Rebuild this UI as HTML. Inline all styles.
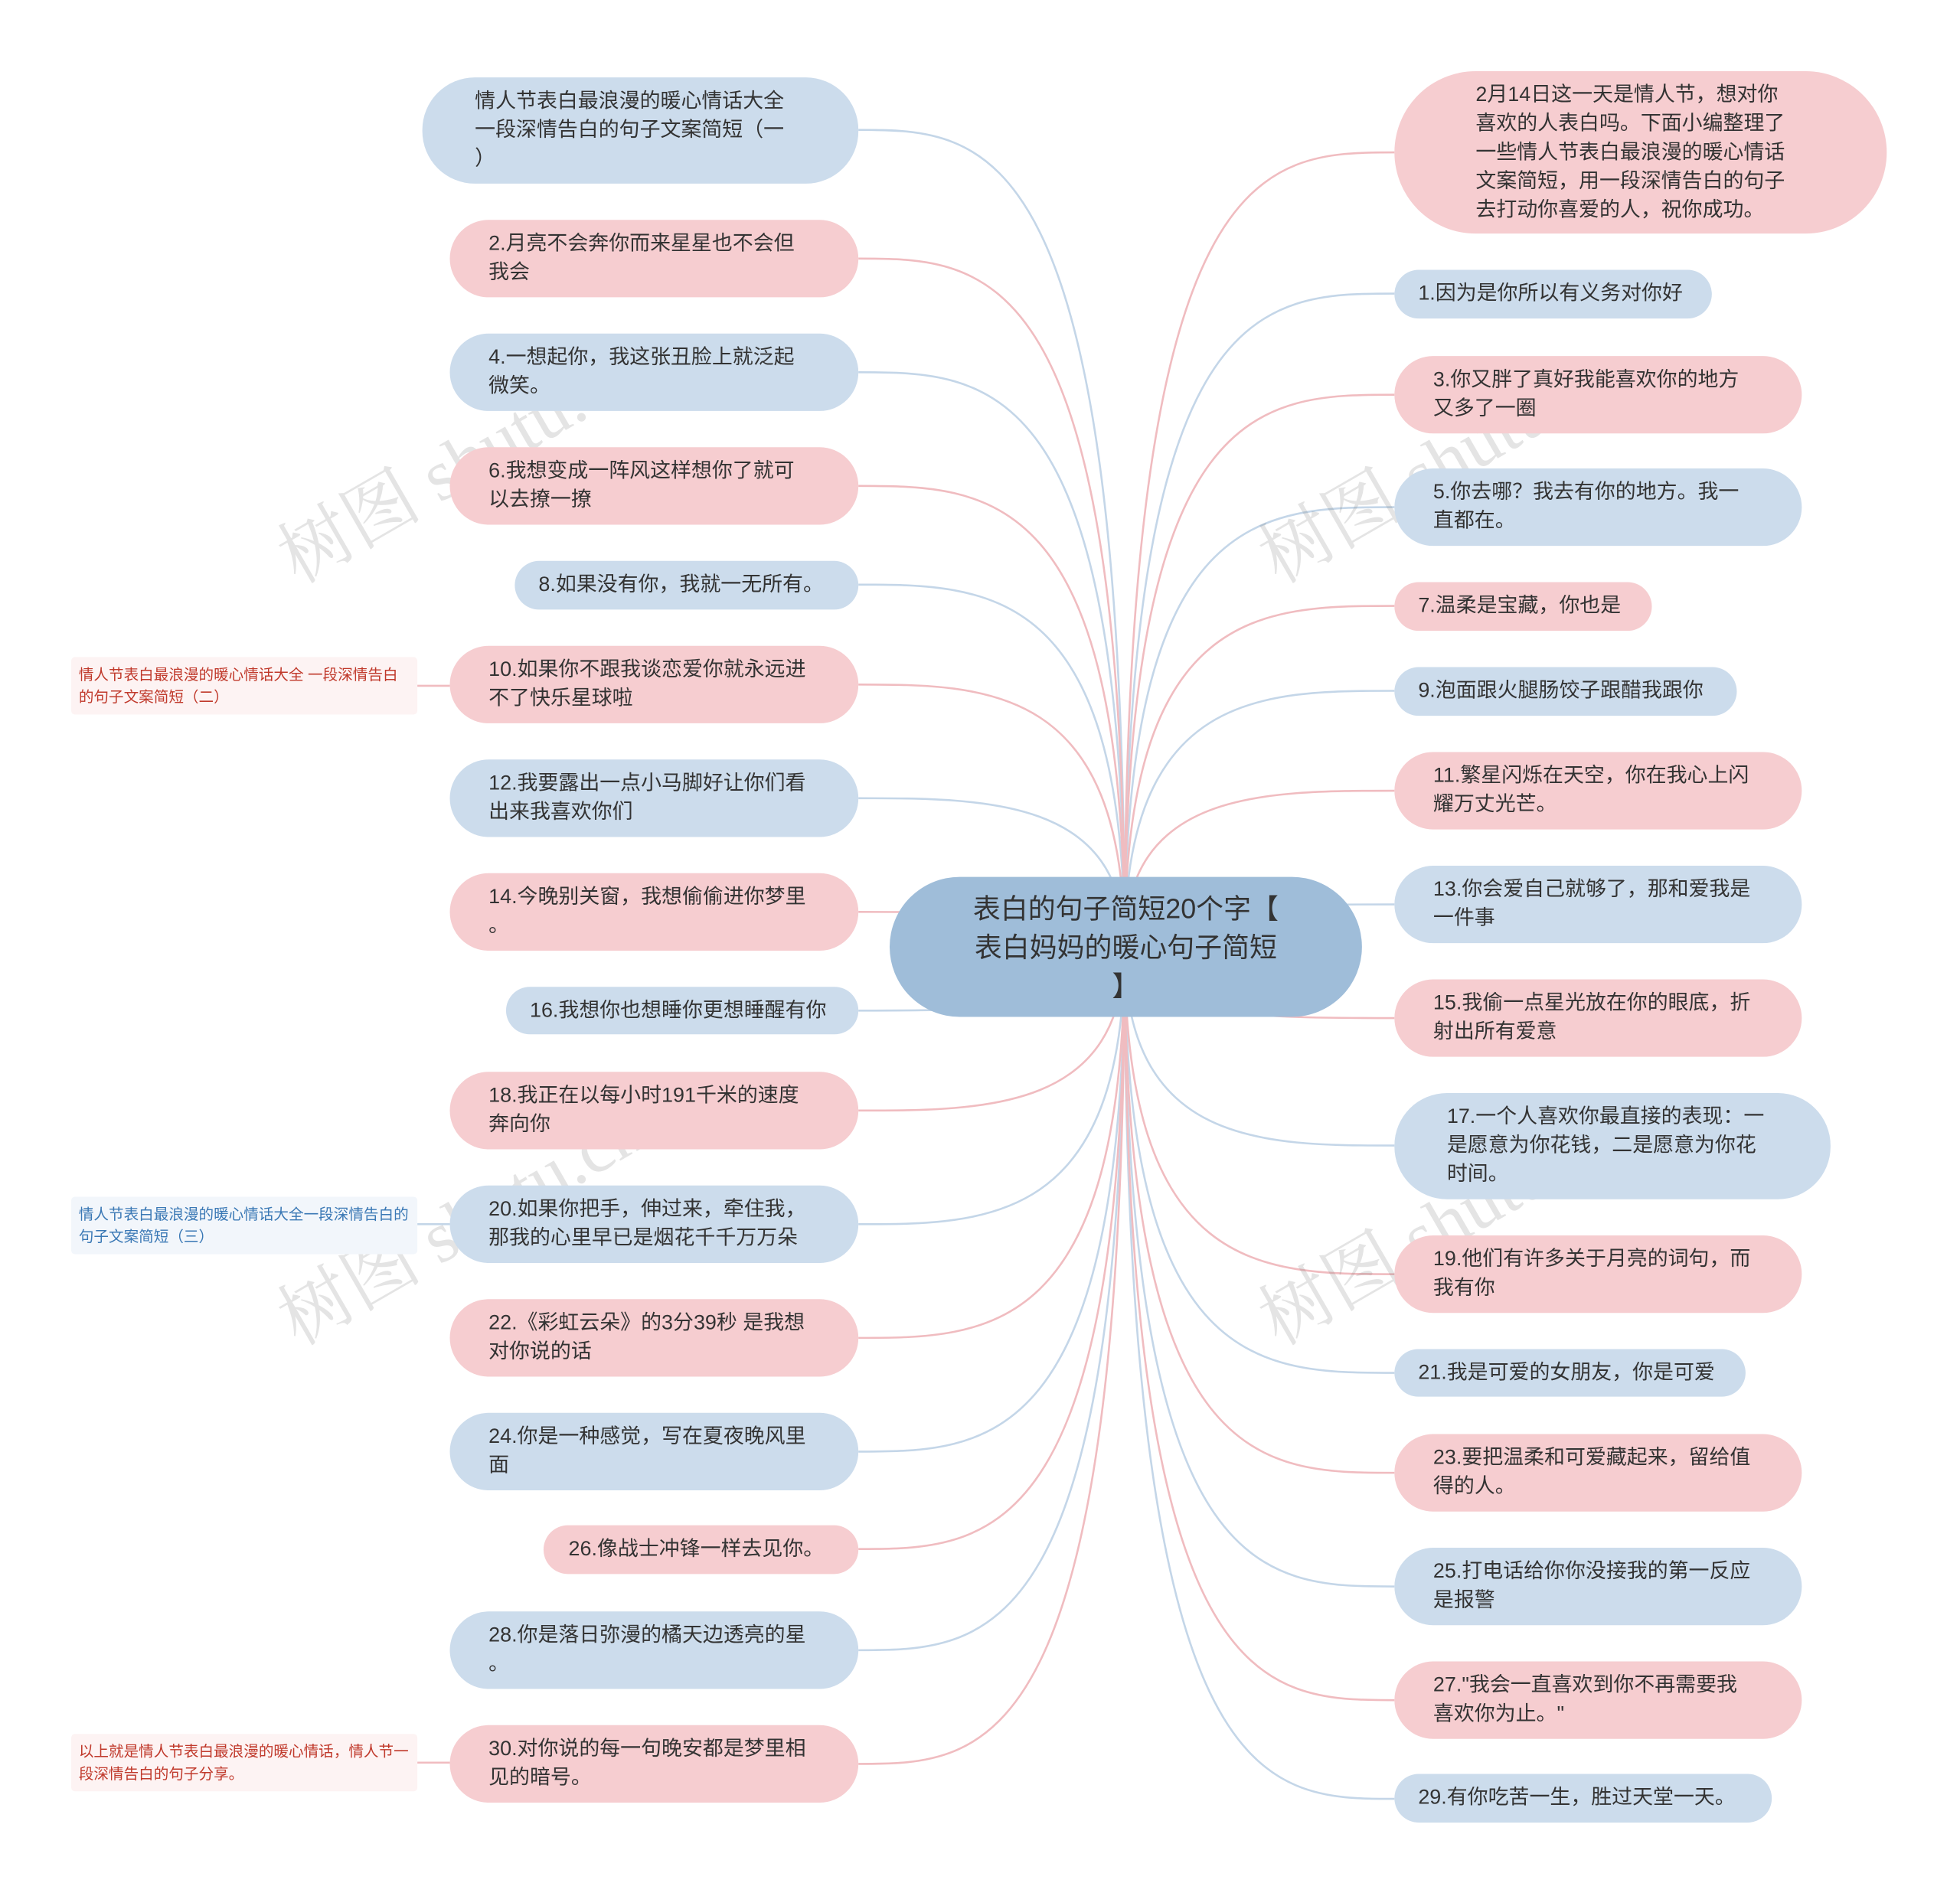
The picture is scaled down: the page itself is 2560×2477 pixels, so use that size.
<!DOCTYPE html>
<html><head><meta charset="utf-8">
<style>
html,body{margin:0;padding:0;background:#fff;overflow:hidden;}
#wrap{position:relative;width:2560px;height:2477px;overflow:hidden;}
#s{position:absolute;left:0;top:0;width:1550px;height:1500px;overflow:hidden;transform:scale(1.632);transform-origin:0 0;font-family:"Liberation Sans","Noto Sans CJK SC",sans-serif;}
.n{position:absolute;box-sizing:border-box;border-radius:32px;display:flex;align-items:center;font-size:16.5px;line-height:23px;color:#333;padding-left:31px;padding-right:38px;word-break:break-all;line-break:anywhere;}
.b{background:#ccdcec;}
.p{background:#f6cdd0;}
.note{position:absolute;left:57px;width:277px;height:46px;box-sizing:border-box;padding:5px 6px;font-size:12px;line-height:18px;border-radius:3px;}
.wm{position:absolute;font-family:"Liberation Serif","Noto Serif CJK SC",serif;font-size:58px;color:rgba(120,120,120,0.2);transform:rotate(-30deg);transform-origin:0 0;white-space:nowrap;}
</style></head><body><div id="wrap"><div id="s">
<svg width="1550" height="1500" style="position:absolute;left:0;top:0" fill="none" stroke-width="1.6">
<g stroke="#c4d6e8">
<path d="M900 758 C900 104 790 104 687 104"/>
<path d="M900 758 C900 298 790 298 687 298"/>
<path d="M900 758 C900 468 790 468 687 468"/>
<path d="M900 758 C900 639 790 639 687 639"/>
<path d="M900 758 C900 809 790 809 687 809"/>
<path d="M900 758 C900 980 790 980 687 980"/>
<path d="M900 758 C900 1162 790 1162 687 1162"/>
<path d="M900 758 C900 1321 790 1321 687 1321"/>
<path d="M900 758 C900 235 1010 235 1116 235"/>
<path d="M900 758 C900 406 1010 406 1116 406"/>
<path d="M900 758 C900 553 1010 553 1116 553"/>
<path d="M900 758 C900 724 1010 724 1116 724"/>
<path d="M900 758 C900 917 1010 917 1116 917"/>
<path d="M900 758 C900 1099 1010 1099 1116 1099"/>
<path d="M900 758 C900 1270 1010 1270 1116 1270"/>
<path d="M900 758 C900 1440 1010 1440 1116 1440"/>
<path d="M334 980 L360 980"/>
</g>
<g stroke="#f0bcc0">
<path d="M900 758 C900 207 790 207 687 207"/>
<path d="M900 758 C900 389 790 389 687 389"/>
<path d="M900 758 C900 548 790 548 687 548"/>
<path d="M900 758 C900 730 790 730 687 730"/>
<path d="M900 758 C900 889 790 889 687 889"/>
<path d="M900 758 C900 1071 790 1071 687 1071"/>
<path d="M900 758 C900 1240 790 1240 687 1240"/>
<path d="M900 758 C900 1412 790 1412 687 1412"/>
<path d="M900 758 C900 122 1010 122 1116 122"/>
<path d="M900 758 C900 316 1010 316 1116 316"/>
<path d="M900 758 C900 485 1010 485 1116 485"/>
<path d="M900 758 C900 633 1010 633 1116 633"/>
<path d="M900 758 C900 815 1010 815 1116 815"/>
<path d="M900 758 C900 1020 1010 1020 1116 1020"/>
<path d="M900 758 C900 1179 1010 1179 1116 1179"/>
<path d="M900 758 C900 1361 1010 1361 1116 1361"/>
<path d="M334 549 L360 549"/>
<path d="M334 1411 L360 1411"/>
</g>
</svg>

<div class="wm" style="left:205px;top:410px">树图 shutu.cn</div>
<div class="wm" style="left:205px;top:1020px">树图 shutu.cn</div>
<div class="wm" style="left:990px;top:410px">树图 shutu.cn</div>
<div class="wm" style="left:990px;top:1020px">树图 shutu.cn</div>
<div class="wm" style="left:205px;top:1630px">树图 shutu.cn</div>
<div class="wm" style="left:990px;top:1630px">树图 shutu.cn</div>

<div class="n" style="left:712px;top:702px;width:378px;height:112px;border-radius:56px;background:#9fbdd9;font-size:22px;line-height:31px;justify-content:center;text-align:center;padding:0 40px;">表白的句子简短20个字【<br>表白妈妈的暖心句子简短<br>】</div>

<div class="n b" style="left:338px;top:62px;width:349px;height:85px;padding-left:42px;padding-right:44px;border-radius:42px">情人节表白最浪漫的暖心情话大全<br>一段深情告白的句子文案简短（一<br>）</div>
<div class="n p" style="left:360px;top:176px;width:327px;height:62px">2.月亮不会奔你而来星星也不会但我会</div>
<div class="n b" style="left:360px;top:267px;width:327px;height:62px">4.一想起你，我这张丑脸上就泛起微笑。</div>
<div class="n p" style="left:360px;top:358px;width:327px;height:62px">6.我想变成一阵风这样想你了就可以去撩一撩</div>
<div class="n b" style="left:412px;top:449px;width:275px;height:39px;padding-left:19px;padding-right:10px;border-radius:20px">8.如果没有你，我就一无所有。</div>
<div class="n p" style="left:360px;top:517px;width:327px;height:62px">10.如果你不跟我谈恋爱你就永远进不了快乐星球啦</div>
<div class="n b" style="left:360px;top:608px;width:327px;height:62px">12.我要露出一点小马脚好让你们看出来我喜欢你们</div>
<div class="n p" style="left:360px;top:699px;width:327px;height:62px">14.今晚别关窗，我想偷偷进你梦里。</div>
<div class="n b" style="left:405px;top:790px;width:282px;height:38px;padding-left:19px;padding-right:10px;border-radius:20px">16.我想你也想睡你更想睡醒有你</div>
<div class="n p" style="left:360px;top:858px;width:327px;height:62px">18.我正在以每小时191千米的速度奔向你</div>
<div class="n b" style="left:360px;top:949px;width:327px;height:62px">20.如果你把手，伸过来，牵住我，那我的心里早已是烟花千千万万朵</div>
<div class="n p" style="left:360px;top:1040px;width:327px;height:62px">22.《彩虹云朵》的3分39秒 是我想对你说的话</div>
<div class="n b" style="left:360px;top:1131px;width:327px;height:62px">24.你是一种感觉，写在夏夜晚风里面</div>
<div class="n p" style="left:435px;top:1221px;width:252px;height:39px;padding-left:20px;padding-right:10px;border-radius:20px">26.像战士冲锋一样去见你。</div>
<div class="n b" style="left:360px;top:1290px;width:327px;height:62px">28.你是落日弥漫的橘天边透亮的星。</div>
<div class="n p" style="left:360px;top:1381px;width:327px;height:62px">30.对你说的每一句晚安都是梦里相见的暗号。</div>

<div class="n p" style="left:1116px;top:57px;width:394px;height:130px;padding-left:65px;padding-right:72px;border-radius:65px">2月14日这一天是情人节，想对你喜欢的人表白吗。下面小编整理了一些情人节表白最浪漫的暖心情话文案简短，用一段深情告白的句子去打动你喜爱的人，祝你成功。</div>
<div class="n b" style="left:1116px;top:216px;width:254px;height:39px;padding-left:19px;padding-right:10px;border-radius:20px">1.因为是你所以有义务对你好</div>
<div class="n p" style="left:1116px;top:285px;width:326px;height:62px">3.你又胖了真好我能喜欢你的地方又多了一圈</div>
<div class="n b" style="left:1116px;top:375px;width:326px;height:62px">5.你去哪？我去有你的地方。我一直都在。</div>
<div class="n p" style="left:1116px;top:466px;width:206px;height:39px;padding-left:19px;padding-right:10px;border-radius:20px">7.温柔是宝藏，你也是</div>
<div class="n b" style="left:1116px;top:534px;width:274px;height:39px;padding-left:19px;padding-right:10px;border-radius:20px">9.泡面跟火腿肠饺子跟醋我跟你</div>
<div class="n p" style="left:1116px;top:602px;width:326px;height:62px">11.繁星闪烁在天空，你在我心上闪耀万丈光芒。</div>
<div class="n b" style="left:1116px;top:693px;width:326px;height:62px">13.你会爱自己就够了，那和爱我是一件事</div>
<div class="n p" style="left:1116px;top:784px;width:326px;height:62px">15.我偷一点星光放在你的眼底，折射出所有爱意</div>
<div class="n b" style="left:1116px;top:875px;width:349px;height:85px;padding-left:42px;padding-right:46px;border-radius:42px">17.一个人喜欢你最直接的表现：一是愿意为你花钱，二是愿意为你花时间。</div>
<div class="n p" style="left:1116px;top:989px;width:326px;height:62px">19.他们有许多关于月亮的词句，而我有你</div>
<div class="n b" style="left:1116px;top:1080px;width:281px;height:38px;padding-left:19px;padding-right:10px;border-radius:20px">21.我是可爱的女朋友，你是可爱</div>
<div class="n p" style="left:1116px;top:1148px;width:326px;height:62px">23.要把温柔和可爱藏起来，留给值得的人。</div>
<div class="n b" style="left:1116px;top:1239px;width:326px;height:62px">25.打电话给你你没接我的第一反应是报警</div>
<div class="n p" style="left:1116px;top:1330px;width:326px;height:62px">27."我会一直喜欢到你不再需要我喜欢你为止。"</div>
<div class="n b" style="left:1116px;top:1420px;width:302px;height:39px;padding-left:19px;padding-right:10px;border-radius:20px">29.有你吃苦一生，胜过天堂一天。</div>

<div class="note" style="top:526px;background:#fdf3f3;color:#c0392b">情人节表白最浪漫的暖心情话大全 一段深情告白的句子文案简短（二）</div>
<div class="note" style="top:958px;background:#f2f6fb;color:#3a78b5">情人节表白最浪漫的暖心情话大全一段深情告白的句子文案简短（三）</div>
<div class="note" style="top:1388px;background:#fdf3f3;color:#c0392b">以上就是情人节表白最浪漫的暖心情话，情人节一段深情告白的句子分享。</div>
</div></div></body></html>
